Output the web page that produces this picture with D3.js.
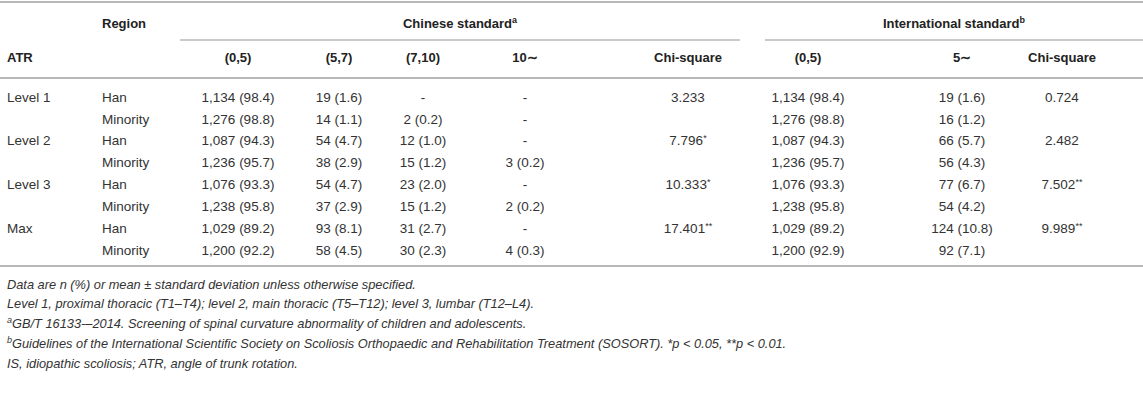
<!DOCTYPE html>
<html>
<head>
<meta charset="utf-8">
<script src="https://cdn.jsdelivr.net/npm/d3@7"></script>
<style>
  body { margin: 0; background: #fff; }
  svg { display: block; font-family: "Liberation Sans", Arial, Helvetica, sans-serif; }
  .cell { font-size: 13.5px; fill: #333; }
  .head { font-size: 13px; font-weight: bold; fill: #222; }
  .note { font-size: 12.8px; font-style: italic; fill: #333; }
</style>
</head>
<body>
<svg id="svg_table" width="1143" height="417"></svg>
<script>
const atrLevels = ['Level 1', 'Level 2', 'Level 3', 'Max'];
const regions = ['Han', 'Minority'];
const columnKeys = ['cn0to5', 'cn5to7', 'cn7to10', 'cn10plus', 'cnChi', 'int0to5', 'int5plus', 'intChi'];
const columnLabels = ['(0,5)', '(5,7)', '(7,10)', '10∼', 'Chi-square', '(0,5)', '5∼', 'Chi-square'];

const cn0to5 = ['1,134 (98.4)', '1,276 (98.8)', '1,087 (94.3)', '1,236 (95.7)', '1,076 (93.3)', '1,238 (95.8)', '1,029 (89.2)', '1,200 (92.2)'];
const cn5to7 = ['19 (1.6)', '14 (1.1)', '54 (4.7)', '38 (2.9)', '54 (4.7)', '37 (2.9)', '93 (8.1)', '58 (4.5)'];
const cn7to10 = ['-', '2 (0.2)', '12 (1.0)', '15 (1.2)', '23 (2.0)', '15 (1.2)', '31 (2.7)', '30 (2.3)'];
const cn10plus = ['-', '-', '-', '3 (0.2)', '-', '2 (0.2)', '-', '4 (0.3)'];
const cnChi = ['3.233', '7.796*', '10.333*', '17.401**'];
const int0to5 = ['1,134 (98.4)', '1,276 (98.8)', '1,087 (94.3)', '1,236 (95.7)', '1,076 (93.3)', '1,238 (95.8)', '1,029 (89.2)', '1,200 (92.9)'];
const int5plus = ['19 (1.6)', '16 (1.2)', '66 (5.7)', '56 (4.3)', '77 (6.7)', '54 (4.2)', '124 (10.8)', '92 (7.1)'];
const intChi = ['0.724', '2.482', '7.502**', '9.989**'];

const footnotes = [
  ['', 'Data are n (%) or mean ± standard deviation unless otherwise specified.'],
  ['', 'Level 1, proximal thoracic (T1–T4); level 2, main thoracic (T5–T12); level 3, lumbar (T12–L4).'],
  ['a', 'GB/T 16133-–2014. Screening of spinal curvature abnormality of children and adolescents.'],
  ['b', 'Guidelines of the International Scientific Society on Scoliosis Orthopaedic and Rehabilitation Treatment (SOSORT). *p < 0.05, **p < 0.01.'],
  ['', 'IS, idiopathic scoliosis; ATR, angle of trunk rotation.'],
];

const width = 1143;
const svg = d3.select('#svg_table');

const ruleColor = '#b8b8b8';

const xCol = d3.scaleOrdinal()
  .domain(columnKeys)
  .range([238, 339, 423, 525, 688, 808, 962, 1062]);

const yRow = d3.scalePoint()
  .domain(d3.range(atrLevels.length * regions.length))
  .range([97, 250]);

const yNote = d3.scalePoint()
  .domain(d3.range(footnotes.length))
  .range([284, 363]);

// rules
const rules = [
  { x1: 0, x2: width, y: 2, w: 2 },
  { x1: 180, x2: 740, y: 40, w: 1.5 },
  { x1: 765, x2: width, y: 40, w: 1.5 },
  { x1: 0, x2: width, y: 78, w: 2 },
  { x1: 0, x2: width, y: 266, w: 2 },
];
svg.append('g')
  .selectAll('line')
  .data(rules)
  .enter()
  .append('line')
  .attr('x1', (d) => d.x1)
  .attr('x2', (d) => d.x2)
  .attr('y1', (d) => d.y)
  .attr('y2', (d) => d.y)
  .attr('stroke', ruleColor)
  .attr('stroke-width', (d) => d.w);

// header
const header = svg.append('g');
header.append('text').attr('class', 'head').attr('x', 102).attr('y', 23).attr('dy', '0.35em').text('Region');
header.append('text').attr('class', 'head').attr('x', 7).attr('y', 57).attr('dy', '0.35em').text('ATR');

const groupTitles = [
  { text: 'Chinese standard', sup: 'a', x: (180 + 740) / 2 },
  { text: 'International standard', sup: 'b', x: (765 + width) / 2 },
];
groupTitles.forEach((g) => {
  const t = header.append('text').attr('class', 'head')
    .attr('x', g.x).attr('y', 23).attr('dy', '0.35em')
    .attr('text-anchor', 'middle');
  t.append('tspan').text(g.text);
  t.append('tspan').attr('font-size', '9px').attr('dy', '-5').text(g.sup);
});

header.selectAll('text.col')
  .data(columnKeys)
  .enter()
  .append('text')
  .attr('class', 'head col')
  .attr('x', (d) => xCol(d))
  .attr('y', 57)
  .attr('dy', '0.35em')
  .attr('text-anchor', 'middle')
  .text((d, i) => columnLabels[i]);

// body
const body = svg.append('g');
const rowIdx = d3.range(atrLevels.length * regions.length);

body.selectAll('text.atr')
  .data(atrLevels)
  .enter()
  .append('text')
  .attr('class', 'cell atr')
  .attr('x', 7)
  .attr('y', (d, i) => yRow(i * regions.length))
  .attr('dy', '0.35em')
  .text((d) => d);

body.selectAll('text.region')
  .data(rowIdx)
  .enter()
  .append('text')
  .attr('class', 'cell region')
  .attr('x', 102)
  .attr('y', (d) => yRow(d))
  .attr('dy', '0.35em')
  .text((d) => regions[d % regions.length]);

const writeValue = (sel) => {
  sel.each(function (d) {
    const m = d.v.match(/^(.*?)(\**)$/);
    const t = d3.select(this);
    t.append('tspan').text(m[1]);
    if (m[2]) t.append('tspan').attr('font-size', '9px').attr('dy', '-4').text(m[2]);
  });
};

const rowColumns = { cn0to5, cn5to7, cn7to10, cn10plus, int0to5, int5plus };
Object.keys(rowColumns).forEach((key) => {
  body.selectAll(`text.${key}`)
    .data(rowColumns[key].map((v, i) => ({ v, i })))
    .enter()
    .append('text')
    .attr('class', `cell ${key}`)
    .attr('x', xCol(key))
    .attr('y', (d) => yRow(d.i))
    .attr('dy', '0.35em')
    .attr('text-anchor', 'middle')
    .call(writeValue);
});

const chiColumns = { cnChi, intChi };
Object.keys(chiColumns).forEach((key) => {
  body.selectAll(`text.${key}`)
    .data(chiColumns[key].map((v, i) => ({ v, i })))
    .enter()
    .append('text')
    .attr('class', `cell ${key}`)
    .attr('x', xCol(key))
    .attr('y', (d) => yRow(d.i * regions.length))
    .attr('dy', '0.35em')
    .attr('text-anchor', 'middle')
    .call(writeValue);
});

// footnotes (baseline placed directly so superscripts do not shift lines)
const notes = svg.append('g');
notes.selectAll('text')
  .data(footnotes)
  .enter()
  .append('text')
  .attr('class', 'note')
  .attr('x', 7)
  .attr('y', (d, i) => yNote(i) + 4.5)
  .each(function ([sup, txt]) {
    const t = d3.select(this);
    if (sup) {
      t.append('tspan').attr('font-size', '9px').attr('dy', '-5').text(sup);
      t.append('tspan').attr('dy', '5').text(txt);
    } else {
      t.append('tspan').text(txt);
    }
  });
</script>
</body>
</html>
